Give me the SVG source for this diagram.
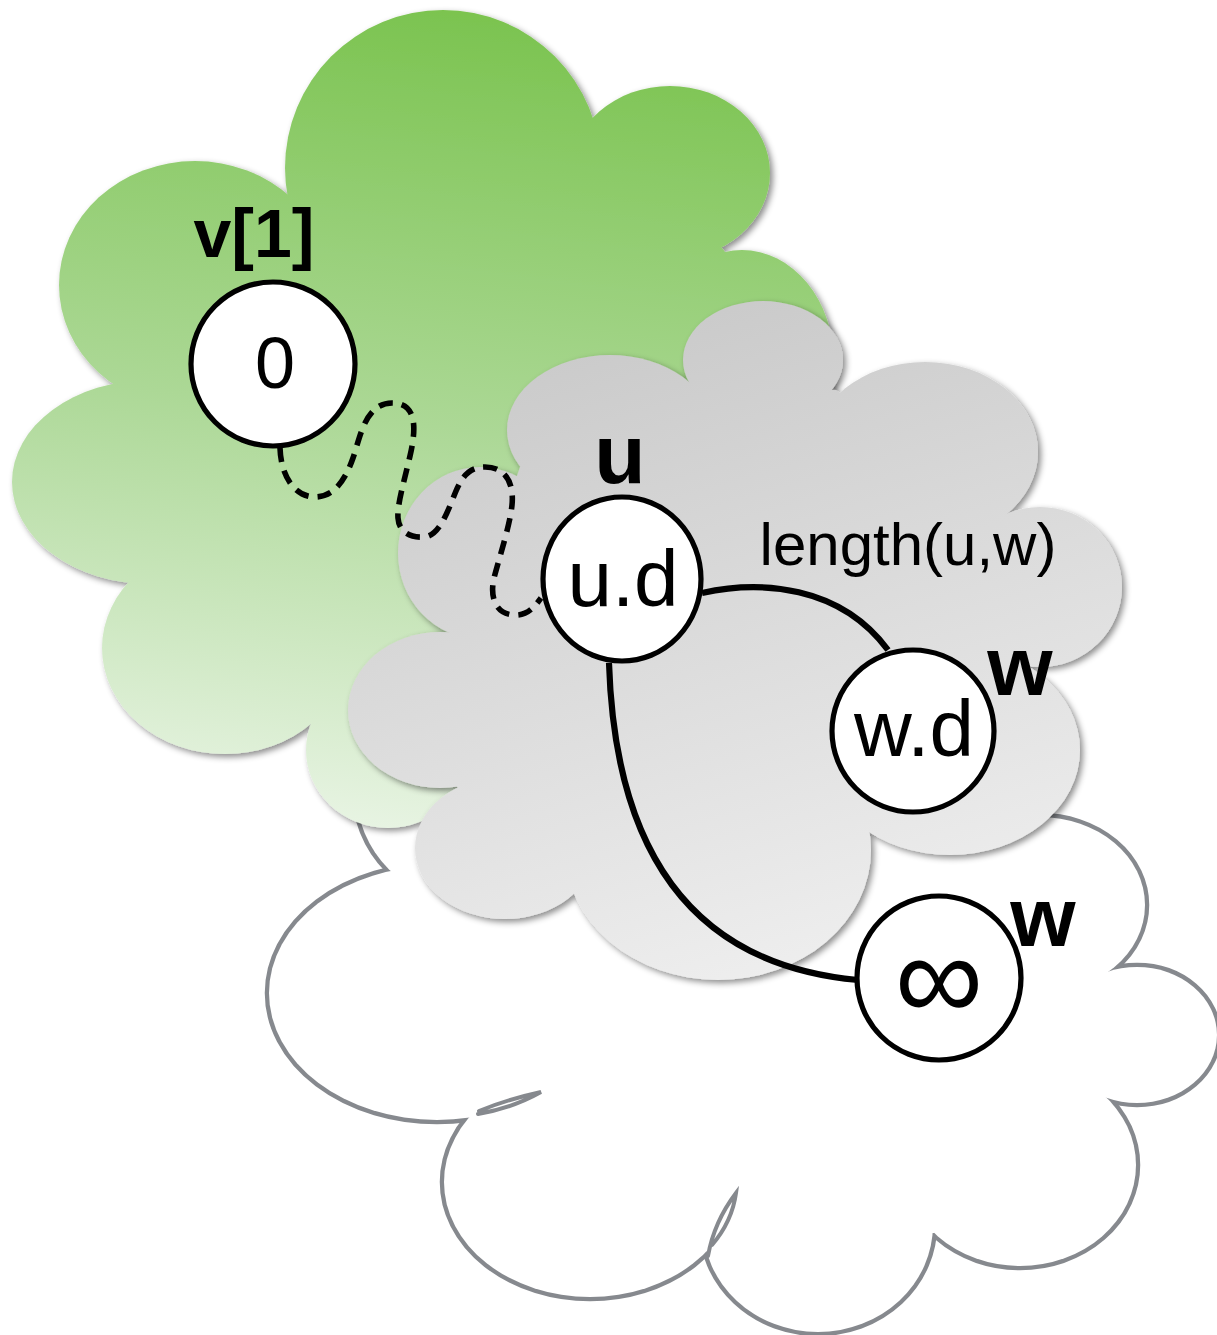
<svg xmlns="http://www.w3.org/2000/svg" width="1217" height="1335" viewBox="0 0 1217 1335">
  <style>
    .wc-edge { fill: #ffffff; stroke: #86898e; stroke-width: 8.5; }
    .wc-face { fill: #ffffff; stroke: none; }
    .wc-tail { fill: none; stroke: #86898e; stroke-width: 4; stroke-linecap: round; }
    .green { fill: url(#gGreen); }
    .grey { fill: url(#gGrey); }
    .node { fill: #ffffff; stroke: #000000; stroke-width: 5.2; }
    .val { font-family: "Liberation Sans", Arial, sans-serif; font-size: 80px; text-anchor: middle; fill: #000000; }
    .tag { font-family: "Liberation Sans", Arial, sans-serif; font-size: 84px; font-weight: bold; text-anchor: middle; fill: #000000; }
    .edge { fill: none; stroke: #000000; stroke-width: 6.2; stroke-linecap: butt; }
    .dash { stroke-width: 5.6; stroke-dasharray: 14 9; }
  </style>
  <defs>
    <linearGradient id="gGreen" gradientUnits="userSpaceOnUse" x1="440" y1="0" x2="330" y2="840">
      <stop offset="0" stop-color="#7ac34e"/>
      <stop offset="0.5" stop-color="#acd896"/>
      <stop offset="1" stop-color="#eaf5e6"/>
    </linearGradient>
    <linearGradient id="gGrey" gradientUnits="userSpaceOnUse" x1="560" y1="300" x2="760" y2="985">
      <stop offset="0" stop-color="#c8c8c8"/>
      <stop offset="1" stop-color="#eeeeee"/>
    </linearGradient>
    <filter id="shadow" x="-10%" y="-10%" width="125%" height="125%">
      <feDropShadow dx="3" dy="3" stdDeviation="3" flood-color="#000000" flood-opacity="0.45"/>
    </filter>
    <!-- lobes of the outlined cloud -->
    <g id="white-lobes">
      <circle cx="468" cy="790" r="112"/>
      <ellipse cx="437" cy="993" rx="168" ry="127"/>
      <ellipse cx="590" cy="1182" rx="146" ry="115"/>
      <ellipse cx="818" cy="1225" rx="115" ry="107"/>
      <ellipse cx="1020" cy="1165" rx="116" ry="101"/>
      <ellipse cx="1137" cy="1035" rx="80" ry="68"/>
      <ellipse cx="1040" cy="905" rx="105" ry="88"/>
    </g>
  </defs>

  <!-- outlined cloud (bottom) -->
  <g id="cloud-white">
    <use href="#white-lobes" class="wc-edge"/>
    <use href="#white-lobes" class="wc-face"/>
    <polygon class="wc-face" points="398,877 478,1113 714,1244 934,1233 1090,1093 1100,976 1050,818 700,800 460,760"/>
    <path class="wc-tail" d="M478,1114 A168,127 0 0 0 541,1092 Q505,1100 479,1111"/>
    <path class="wc-tail" d="M712,1245 A146,115 0 0 0 736,1193 Q714,1222 708,1256"/>
  </g>

  <!-- green cloud -->
  <g id="cloud-green" class="green" filter="url(#shadow)">
    <circle cx="443" cy="168" r="158"/>
    <ellipse cx="670" cy="173" rx="100" ry="87"/>
    <ellipse cx="742" cy="362" rx="92" ry="112"/>
    <ellipse cx="195" cy="285" rx="136" ry="124"/>
    <ellipse cx="150" cy="482" rx="138" ry="102"/>
    <ellipse cx="225" cy="648" rx="123" ry="106"/>
    <ellipse cx="388" cy="750" rx="82" ry="78"/>
    <polygon points="288,195 593,118 722,248 831,392 700,430 520,480 470,640 440,760 311,723 130,582 114,384"/>
  </g>

  <!-- grey cloud -->
  <g id="cloud-grey" class="grey" filter="url(#shadow)">
    <ellipse cx="763" cy="360" rx="80" ry="59"/>
    <ellipse cx="925" cy="452" rx="113" ry="90"/>
    <ellipse cx="1040" cy="587" rx="82" ry="80"/>
    <ellipse cx="950" cy="750" rx="130" ry="105"/>
    <ellipse cx="718" cy="850" rx="153" ry="130"/>
    <ellipse cx="505" cy="848" rx="90" ry="71"/>
    <ellipse cx="440" cy="710" rx="92" ry="78"/>
    <ellipse cx="480" cy="553" rx="82" ry="86"/>
    <ellipse cx="610" cy="430" rx="103" ry="75"/>
    <polygon points="520,467 691,385 836,390 1007,514 1030,666 867,830 574,893 457,787 463,635"/>
  </g>

  <!-- connectors -->
  <g id="connectors">
    <path class="edge dash" d="M280,448 C281,478 296,497 315,497 C335,497 346,478 353,458 C360,438 365,403 392,403 C418,403 416,430 410,456 C404,482 397,505 398,518 C399,532 410,538 424,537 C440,536 448,510 456,491 C463,475 470,467 485,467 C507,467 514,485 512,505 C510,525 500,555 494,578 C490,595 494,614 514,615 C528,616 535,606 541,598"/>
    <path class="edge" d="M702,593 C760,580 840,585 888,650"/>
    <path class="edge" d="M609,663 C615,850 690,965 858,980"/>
    <text class="val" x="908" y="565" style="font-size:60px">length(u,w)</text>
  </g>

  <!-- nodes -->
  <g id="node-source">
    <circle class="node" cx="273" cy="364" r="82"/>
    <text class="val" x="275" y="388" style="font-size:72px">0</text>
    <text class="tag" x="254" y="257" style="font-size:68px">v[1]</text>
  </g>
  <g id="node-u">
    <ellipse class="node" cx="622" cy="579" rx="79" ry="82"/>
    <text class="val" x="623" y="606">u.d</text>
    <text class="tag" x="620" y="483">u</text>
  </g>
  <g id="node-w">
    <circle class="node" cx="913" cy="731" r="81"/>
    <text class="val" x="914" y="756">w.d</text>
    <text class="tag" x="1020" y="695">w</text>
  </g>
  <g id="node-w-unreached">
    <circle class="node" cx="939" cy="978" r="82"/>
    <text class="val" x="939" y="1020" style="font-size:124px">∞</text>
    <text class="tag" x="1043" y="946">w</text>
  </g>
</svg>
